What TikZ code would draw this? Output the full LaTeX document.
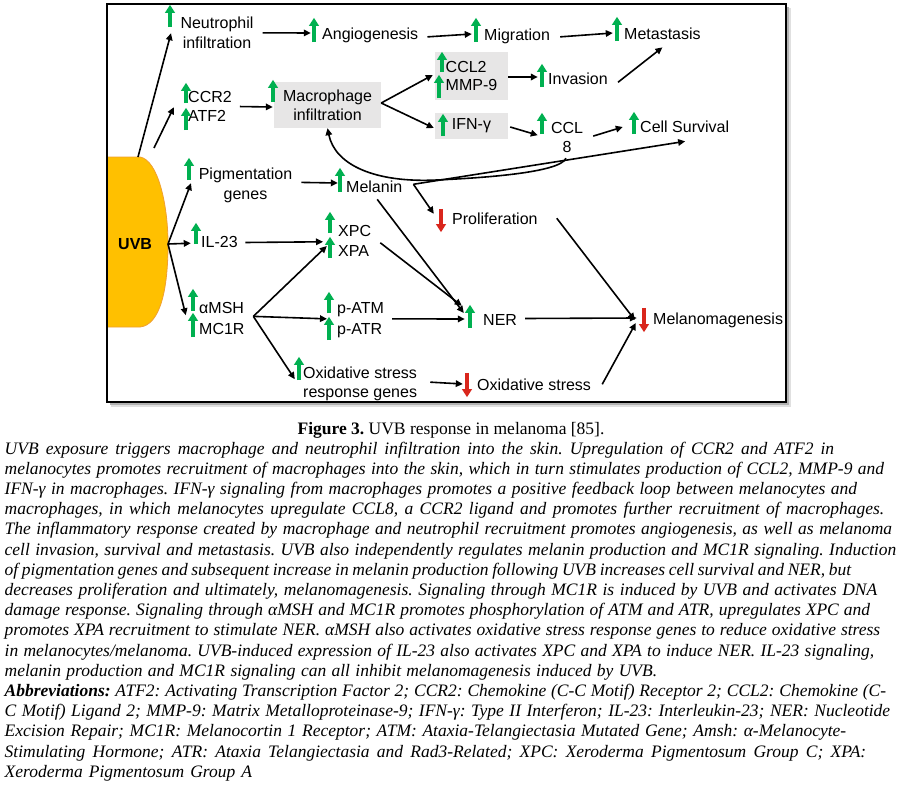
\documentclass[tikz,border=0pt]{standalone}
\usepackage{fontspec}
\setmainfont{Liberation Sans}
\newfontfamily\capfont{Liberation Serif}
\usetikzlibrary{arrows.meta,calc}
\frenchspacing
\definecolor{upgreen}{HTML}{00B050}
\definecolor{downred}{HTML}{D9261C}
\definecolor{boxgray}{HTML}{E7E6E6}
\definecolor{uvbfill}{HTML}{FFC000}
\definecolor{uvbline}{HTML}{F0A030}
\tikzset{
  arr/.style={line width=1.6pt, -{Triangle[length=7pt,width=6.5pt]}},
  lbl/.style={inner sep=0pt, font=\fontsize{16}{19.5}\selectfont},
  gbox/.style={fill=boxgray, inner sep=0pt, font=\fontsize{16}{18}\selectfont},
  glyph/.style={inner sep=0pt, minimum width=10pt, minimum height=#1},
  greenglyph/.style={line width=3.4pt, upgreen, -{Triangle[length=8pt,width=9.5pt]}},
  redglyph/.style={line width=3.4pt, downred, -{Triangle[length=8pt,width=9.5pt]}},
  capl/.style={inner sep=0pt, anchor=base west, font=\capfont\itshape\fontsize{17.5}{20}\selectfont},
}
\newcommand\capln[4]{\node[capl] (#1) at (4.5,#2) {\makebox[#3pt][s]{#4}};}
\begin{document}
\begin{tikzpicture}[x=1pt,y=-1pt]
\useasboundingbox (0,0) rectangle (903,787);
% frame shadow
\fill[black!12] (111,8) rectangle (791,407);
\fill[black!30] (110,7) rectangle (789,405);
\fill[white] (107,4) rectangle (786,402);
% UVB shape
\draw[uvbline, line width=0.8pt, fill=uvbfill] (107,157) -- (140,157) .. controls (158,160) and (168,205) .. (168,244) .. controls (168,290) and (160,325) .. (140,327) -- (107,327) -- cycle;
\node[lbl, font=\fontsize{16}{19}\selectfont\bfseries, anchor=base west] (uvb) at (118,249) {UVB};
\coordinate (uvbT) at (138,157);
\coordinate (uvbT2) at (154,148);
\coordinate (uvbR) at (168,244);

% text nodes
\node[lbl, align=center, anchor=north] (neut) at (217,17) {Neutrophil\\infiltration};
\node[lbl, anchor=base west] (angio) at (322,39) {Angiogenesis};
\node[lbl, anchor=base west] (migr) at (484,40) {Migration};
\node[lbl, anchor=base west] (meta) at (624,39) {Metastasis};
\node[lbl, align=left, anchor=north west] (ccr) at (188,91) {CCR2\\ATF2};
\node[gbox, align=center, minimum width=107pt, minimum height=46pt, font=\fontsize{16}{19}\selectfont] (macro) at (327.5,105) {Macrophage\\infiltration};
\node[gbox, align=left, minimum width=73pt, minimum height=48pt] (ccl2) at (471.5,76) {CCL2\\MMP-9};
\node[gbox, minimum width=73pt, minimum height=26pt] (ifn) at (471.5,126) {IFN-γ};
\node[lbl, anchor=base west] (invas) at (548,84) {Invasion};
\node[lbl, align=center, anchor=north] (ccl8) at (567,122) {CCL\\8};
\node[lbl, anchor=base west] (surv) at (640,132) {Cell Survival};
\node[lbl, align=center, anchor=north] (pigm) at (245.5,168) {Pigmentation\\genes};
\node[lbl, anchor=base west] (melan) at (346,192) {Melanin};
\node[lbl, anchor=base west] (prolif) at (452,224) {Proliferation};
\node[lbl, anchor=base west] (il23) at (201,247) {IL-23};
\node[lbl, align=left, anchor=north west, font=\fontsize{16}{20}\selectfont] (xp) at (338,225) {XPC\\XPA};
\node[lbl, align=left, anchor=north west, font=\fontsize{16}{21}\selectfont] (amsh) at (199,302) {αMSH\\MC1R};
\node[lbl, align=left, anchor=north west, font=\fontsize{16}{21}\selectfont] (patm) at (337,302) {p-ATM\\p-ATR};
\node[lbl, align=left, anchor=north west, font=\fontsize{16}{19}\selectfont] (osrg) at (303,367) {Oxidative stress\\response genes};
\node[lbl, anchor=base west] (ner) at (483,325) {NER};
\node[lbl, anchor=base west] (oxs) at (477,390) {Oxidative stress};
\node[lbl, anchor=base west] (melano) at (653,324) {Melanomagenesis};

% up / down glyph nodes
\node[glyph=22pt] (gNeut) at (170,16) {};
\node[glyph=24pt] (gAng) at (314,30) {};
\node[glyph=24pt] (gMig) at (476,30) {};
\node[glyph=24pt] (gMet) at (617,29) {};
\node[glyph=20pt] (gCcr) at (186,93) {};
\node[glyph=22pt] (gAtf) at (186,119) {};
\node[glyph=22pt] (gMac) at (273,91) {};
\node[glyph=20pt] (gCcl2) at (442,62) {};
\node[glyph=23pt] (gMmp) at (439,86.5) {};
\node[glyph=23pt] (gInv) at (542,75.5) {};
\node[glyph=22pt] (gIfn) at (443,125) {};
\node[glyph=21pt] (gCcl8) at (542,123.5) {};
\node[glyph=22pt] (gSurv) at (634,123) {};
\node[glyph=22pt] (gPig) at (189,169) {};
\node[glyph=24pt] (gMel) at (340,180) {};
\node[glyph=21pt] (gIl) at (196,233.5) {};
\node[glyph=21pt] (gXpc) at (330,222.5) {};
\node[glyph=21pt] (gXpa) at (330,247.5) {};
\node[glyph=22pt] (gAmsh) at (193,300) {};
\node[glyph=24pt] (gMc1r) at (193,325) {};
\node[glyph=21pt] (gPatm) at (329,302.5) {};
\node[glyph=23pt] (gPatr) at (329,328.5) {};
\node[glyph=23pt] (gOsrg) at (299,368.5) {};
\node[glyph=23pt] (gNer) at (470,316.5) {};
\node[glyph=23pt] (rProl) at (441,220.5) {};
\node[glyph=24pt] (rOxs) at (467,385) {};
\node[glyph=24pt] (rMel) at (644,320) {};
\foreach \n in {gNeut,gAng,gMig,gMet,gCcr,gAtf,gMac,gCcl2,gMmp,gInv,gIfn,gCcl8,gSurv,gPig,gMel,gIl,gXpc,gXpa,gAmsh,gMc1r,gPatm,gPatr,gOsrg,gNer}
  \draw[greenglyph] (\n.south) -- (\n.north);
\foreach \n in {rProl,rOxs,rMel}
  \draw[redglyph] (\n.north) -- (\n.south);

% connectors
\draw[arr] (uvbT) -- ($(gNeut.south)+(1,6)$);
\draw[arr] (uvbT2) -- ($(gCcr.south west)+(-7,4)$);
\draw[arr] (uvbR) -- ($(gPig.south)+(2,3)$);
\draw[arr] (uvbR) -- ($(gIl.south west)+(0,-1)$);
\draw[arr] (uvbR) -- ($(gAmsh.south west)+(-2,4)$);
\draw[arr] ($(neut.east)+(9,0)$) -- ($(gAng.west)+(2,3)$);
\draw[arr] ($(angio.east)+(9,2)$) -- ($(gMig.west)+(1,4)$);
\draw[arr] ($(migr.east)+(10,1)$) -- ($(gMet.west)+(1,4)$);
\draw[arr] ($(ccr.east)+(8,0)$) -- ($(macro.west)+(-1,2)$);
\coordinate (macJ) at ($(macro.east)+(0,-2)$);
\draw[arr] (macJ) -- ($(ccl2.west)+(-2,-1)$);
\draw[arr] (macJ) -- ($(ifn.west)+(-1,2)$);
\draw[arr] ($(ccl2.east)+(0,1)$) -- ($(gInv.west)+(1,1.5)$);
\draw[arr] ($(invas.east)+(10,4)$) -- ($(meta.south)+(0,8)$);
\draw[arr] ($(ifn.east)+(2,1)$) -- ($(gCcl8.south west)+(1,1)$);
\draw[arr] ($(ccl8.east)+(10,-1.5)$) -- ($(gSurv.west)+(-6,4)$);
\draw[arr] ($(pigm.east)+(9,-3)$) -- ($(gMel.west)+(3,3)$);
\coordinate (melJ) at ($(melan.east)+(11,-2)$);
\draw[arr] (melJ) -- ($(surv.south)+(0.5,9)$);
\draw[arr] (melJ) -- ($(rProl.north west)+(-2,5)$);
\draw[arr] ($(ccl8.south)+(-1,5)$) .. controls (560,173) and (480,178) .. (437,180) .. controls (375,183) and (335,165) .. (macro.south);
\draw[arr] ($(prolif.east)+(19,0)$) -- ($(rMel.west)+(-4,0)$);
\draw[arr] ($(melan.south)+(3,7)$) -- ($(gNer.west)+(-1,-3.5)$);
\draw[arr] ($(xp.east)+(9,2)$) -- ($(gNer.north west)+(-3,1)$);
\coordinate (amJ) at ($(amsh.east)+(8.6,-2)$);
\draw[arr] (amJ) -- ($(gXpa.west)+(2,-1.5)$);
\draw[arr] ($(il23.east)+(7.6,1)$) -- ($(xp.west)+(-15,1)$);
\draw[arr] (amJ) -- ($(patm.west)+(-10,-1)$);
\draw[arr] ($(patm.east)+(8,-1)$) -- ($(gNer.west)+(0,2.5)$);
\draw[arr] (amJ) -- ($(gOsrg.south west)+(1,-1)$);
\draw[arr] ($(osrg.east)+(13,-2)$) -- ($(rOxs.west)+(1,-1)$);
\draw[arr] ($(oxs.east)+(11,0)$) -- ($(rMel.west)+(-3,3)$);
\draw[arr] ($(ner.east)+(8,-1)$) -- ($(rMel.west)+(-2,-2)$);

% frame
\draw[line width=1.3pt] (107,4) rectangle (786,402);

% caption
\node[inner sep=0pt, anchor=base, font=\capfont\fontsize{17.5}{20}\selectfont] (capt) at (451,434) {\textbf{Figure 3.} UVB response in melanoma [85].};
\capln{c0}{454}{829.5}{UVB exposure triggers macrophage and neutrophil infiltration into the skin. Upregulation of CCR2 and ATF2 in}
\capln{c1}{474.2}{879.5}{melanocytes promotes recruitment of macrophages into the skin, which in turn stimulates production of CCL2, MMP-9 and}
\capln{c2}{494.4}{852.5}{IFN-γ in macrophages. IFN-γ signaling from macrophages promotes a positive feedback loop between melanocytes and}
\capln{c3}{514.6}{879.5}{macrophages, in which melanocytes upregulate CCL8, a CCR2 ligand and promotes further recruitment of macrophages.}
\capln{c4}{534.8}{887.5}{The inflammatory response created by macrophage and neutrophil recruitment promotes angiogenesis, as well as melanoma}
\capln{c5}{555}{891.5}{cell invasion, survival and metastasis. UVB also independently regulates melanin production and MC1R signaling. Induction}
\capln{c6}{575.2}{846.5}{of pigmentation genes and subsequent increase in melanin production following UVB increases cell survival and NER, but}
\capln{c7}{595.4}{872.5}{decreases proliferation and ultimately, melanomagenesis. Signaling through MC1R is induced by UVB and activates DNA}
\capln{c8}{615.6}{865.5}{damage response. Signaling through αMSH and MC1R promotes phosphorylation of ATM and ATR, upregulates XPC and}
\capln{c9}{635.8}{875.5}{promotes XPA recruitment to stimulate NER. αMSH also activates oxidative stress response genes to reduce oxidative stress}
\capln{c10}{656}{869.5}{in melanocytes/melanoma. UVB-induced expression of IL-23 also activates XPC and XPA to induce NER. IL-23 signaling,}
\capln{c11}{676.2}{652.5}{melanin production and MC1R signaling can all inhibit melanomagenesis induced by UVB.}
\capln{c12}{696.4}{881.5}{\textbf{Abbreviations:} ATF2: Activating Transcription Factor 2; CCR2: Chemokine (C-C Motif) Receptor 2; CCL2: Chemokine (C-}
\capln{c13}{716.6}{885.5}{C Motif) Ligand 2; MMP-9: Matrix Metalloproteinase-9; IFN-γ: Type II Interferon; IL-23: Interleukin-23; NER: Nucleotide}
\capln{c14}{736.8}{841.5}{Excision Repair; MC1R: Melanocortin 1 Receptor; ATM: Ataxia-Telangiectasia Mutated Gene; Amsh: α-Melanocyte-}
\capln{c15}{757}{861.5}{Stimulating Hormone; ATR: Ataxia Telangiectasia and Rad3-Related; XPC: Xeroderma Pigmentosum Group C; XPA:}
\capln{c16}{777.2}{247.5}{Xeroderma Pigmentosum Group A}
\end{tikzpicture}
\end{document}
